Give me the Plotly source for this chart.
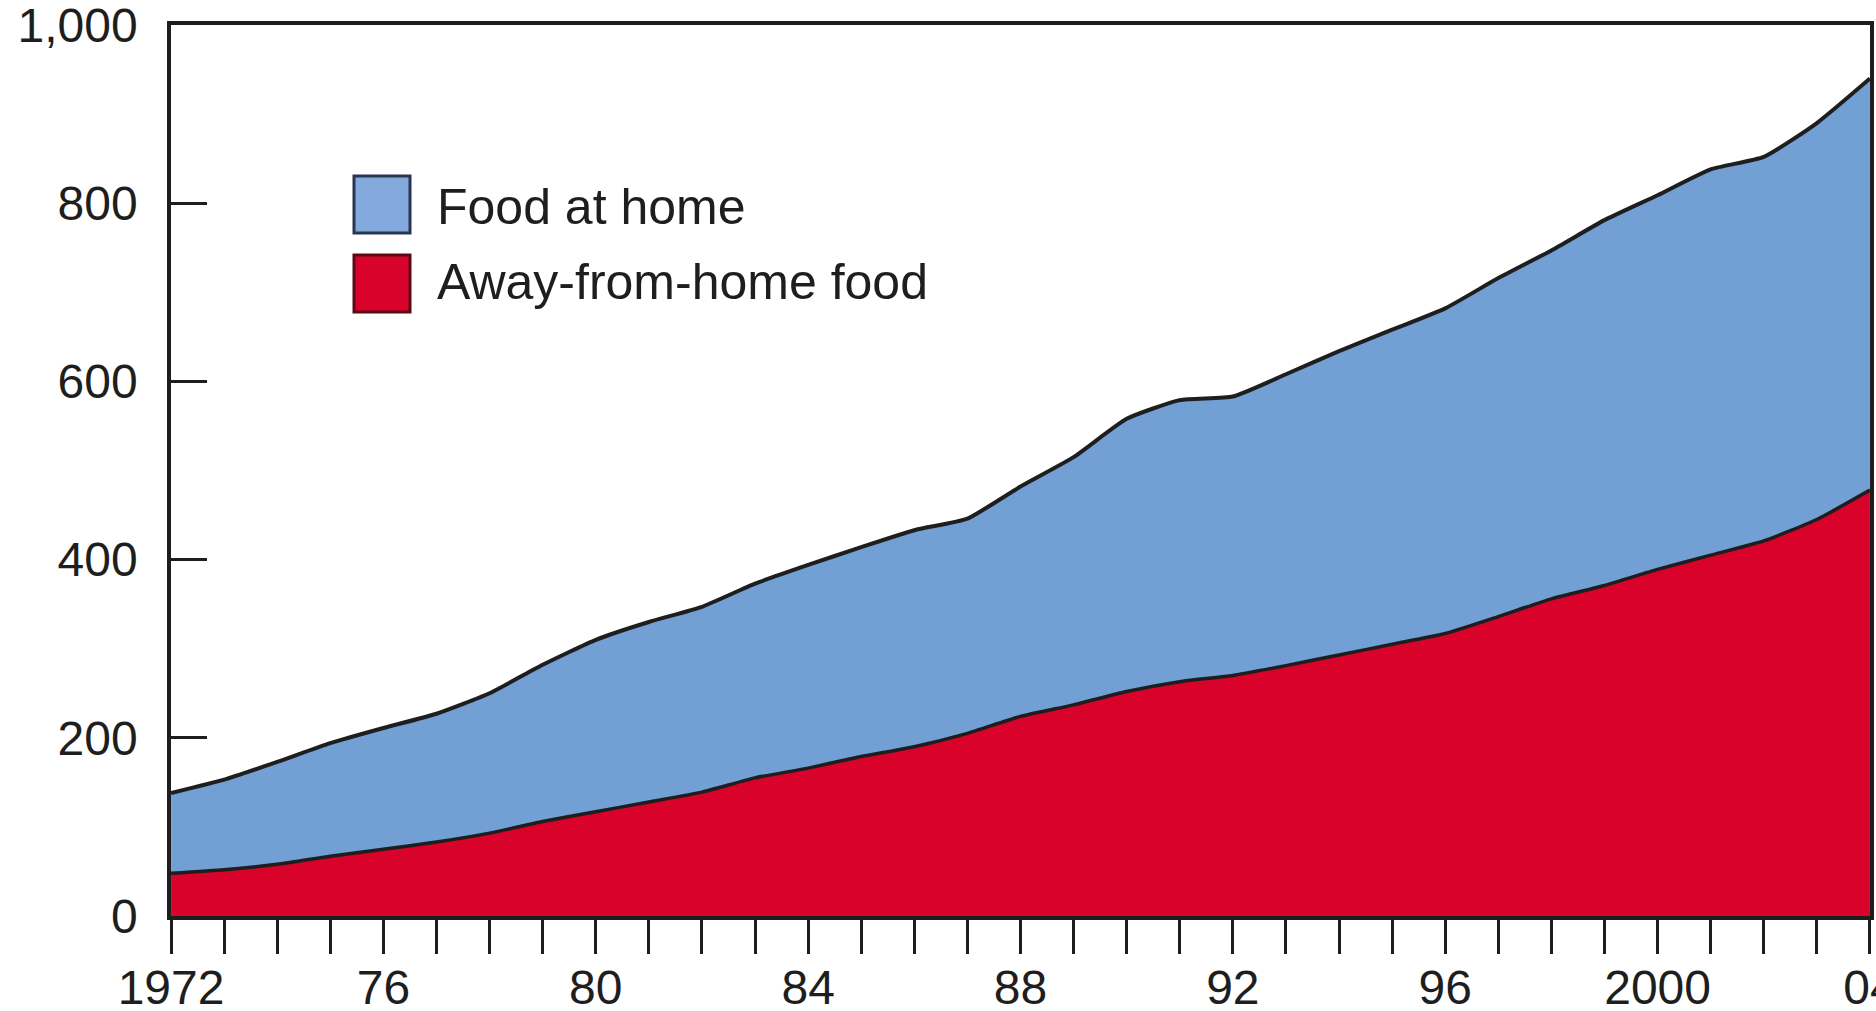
import plotly.graph_objects as go

# Annual food spending, billion dollars
years = list(range(1972, 2005))
away_from_home = [48, 52, 58, 67, 75, 83, 93, 106, 117, 128, 139, 155, 166, 179, 190, 205,
                  224, 237, 252, 263, 270, 281, 293, 305, 317, 336, 356, 371, 389, 405,
                  421, 445, 478]
at_home = [90, 101, 115, 127, 136, 144, 157, 176, 193, 202, 208, 218, 228, 235, 243, 241,
           258, 278, 306, 316, 313, 327, 341, 353, 365, 380, 391, 410, 420, 433,
           431, 445, 462]

x_tick_labels = {1972: "1972", 1976: "76", 1980: "80", 1984: "84", 1988: "88",
                 1992: "92", 1996: "96", 2000: "2000", 2004: "04"}
y_ticks = [0, 200, 400, 600, 800, 1000]

RED = "#d8022b"
BLUE = "#729fd4"
INK = "#1e1e1e"
FONT = "Liberation Sans, Arial, Helvetica, sans-serif"

fig = go.Figure()
fig.add_trace(go.Scatter(
    x=years, y=away_from_home, name="Away-from-home food",
    stackgroup="food", mode="lines",
    line=dict(color=INK, width=3.5, shape="spline", smoothing=0.5),
    fillcolor=RED,
))
fig.add_trace(go.Scatter(
    x=years, y=at_home, name="Food at home",
    stackgroup="food", mode="lines",
    line=dict(color=INK, width=4, shape="spline", smoothing=0.5),
    fillcolor=BLUE,
))

fig.update_xaxes(
    range=[1971.999, 2004.001],
    tickmode="array",
    tickvals=years,
    ticktext=[x_tick_labels.get(y, "") for y in years],
    ticks="outside", ticklen=34, tickwidth=3, tickcolor=INK,
    ticklabelstandoff=-7,
    ticklabeloverflow="allow",
    showline=True, linecolor=INK, linewidth=3.5, mirror=True,
    showgrid=False, zeroline=False, automargin=False,
    tickfont=dict(family=FONT, size=48, color=INK),
)
fig.update_yaxes(
    range=[0, 1000.01],
    tickmode="array",
    tickvals=y_ticks,
    ticktext=[f"{v:,}" for v in y_ticks],
    ticks="inside", ticklen=36, tickwidth=3, tickcolor=INK,
    ticklabelstandoff=20,
    ticklabeloverflow="allow",
    showline=True, linecolor=INK, linewidth=3.5, mirror=True,
    showgrid=False, zeroline=False, automargin=False,
    tickfont=dict(family=FONT, size=48, color=INK),
)

# Legend: boxed swatches with labels
legend_items = [("Food at home", "#84a9dc", "#2a3550", 207),
                ("Away-from-home food", RED, "#5a0a14", 282)]
for i, (label, fill, edge, text_y) in enumerate(legend_items):
    y0 = 176 + i * 79
    fig.add_shape(type="rect", xref="paper", yref="paper",
                  x0=(354 - 171) / 1699, x1=(410 - 171) / 1699,
                  y0=(916 - (y0 + 57)) / 891, y1=(916 - y0) / 891,
                  fillcolor=fill, line=dict(color=edge, width=3))
    fig.add_annotation(xref="paper", yref="paper",
                       x=(435 - 171) / 1699, y=(916 - text_y) / 891,
                       text=label, showarrow=False, xanchor="left", yanchor="middle",
                       font=dict(family=FONT, size=50, color=INK))

fig.update_layout(
    width=1876, height=1011,
    margin=dict(l=171, r=6, t=25, b=95),
    paper_bgcolor="white", plot_bgcolor="white",
    showlegend=False,
)

fig.write_html("out.html")
